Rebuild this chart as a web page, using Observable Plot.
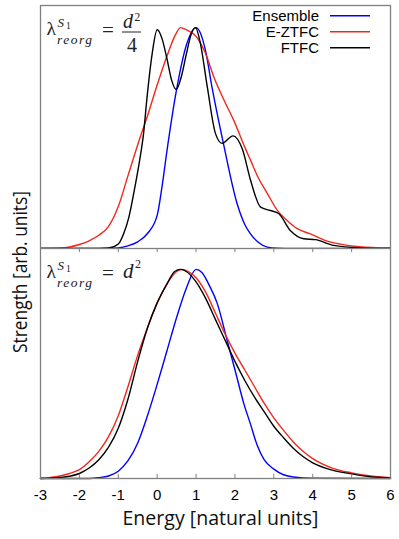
<!DOCTYPE html>
<html>
<head>
<meta charset="utf-8">
<script src="https://cdn.jsdelivr.net/npm/d3@7"></script>
<script src="https://cdn.jsdelivr.net/npm/@observablehq/plot@0.6"></script>
<style>
  html, body { margin: 0; padding: 0; background: white; }
  #chart { position: relative; width: 399px; height: 539px; }
  #chart > svg { position: absolute; left: 0; }
</style>
</head>
<body>
<div id="chart"></div>
<script>
// ---------- data (Energy, Strength) ----------
const xTicks = [-3, -2, -1, 0, 1, 2, 3, 4, 5, 6];
const seriesNames = ["Ensemble", "E-ZTFC", "FTFC"];
const seriesColors = ["#0000ff", "#f0281e", "#000000"];

// top panel: lambda = d^2/4
const topEnsemble = [[-3,0],[-1.5,0],[-1.0,0.003],[-0.75,0.012],[-0.5,0.03],[-0.25,0.068],[0,0.15],[0.125,0.28],[0.25,0.44],[0.5,0.72],[0.75,0.92],[1.0,1.0],[1.1,0.98],[1.25,0.89],[1.41,0.73],[1.71,0.47],[2.06,0.2],[2.25,0.11],[2.4,0.066],[2.6,0.028],[2.83,0.006],[3.1,0.001],[3.5,0],[6,0]];
const topEZTFC = [[-3,0],[-2.5,0.002],[-2.25,0.007],[-2.0,0.018],[-1.75,0.035],[-1.5,0.06],[-1.25,0.1],[-1.0,0.19],[-0.75,0.33],[-0.5,0.47],[-0.25,0.6],[0,0.74],[0.25,0.87],[0.45,0.96],[0.6,1.0],[0.75,0.99],[1.0,0.96],[1.25,0.88],[1.46,0.775],[1.75,0.66],[1.97,0.58],[2.25,0.46],[2.4,0.40],[2.6,0.32],[2.83,0.25],[3.1,0.17],[3.34,0.127],[3.6,0.09],[3.94,0.066],[4.3,0.038],[4.71,0.02],[5.2,0.008],[5.6,0.004],[6,0.002]];
const topFTFC = [[-3,0],[-1.5,0],[-1.25,0.002],[-1.0,0.02],[-0.86,0.068],[-0.73,0.14],[-0.56,0.29],[-0.45,0.40],[-0.35,0.52],[-0.26,0.685],[-0.13,0.88],[0,0.99],[0.125,0.95],[0.25,0.86],[0.375,0.76],[0.49,0.72],[0.625,0.78],[0.75,0.88],[0.875,0.97],[0.985,1.0],[1.11,0.93],[1.29,0.73],[1.5,0.52],[1.67,0.476],[1.95,0.51],[2.19,0.45],[2.4,0.31],[2.66,0.187],[2.91,0.172],[3.13,0.157],[3.43,0.08],[3.77,0.044],[4.07,0.04],[4.54,0.014],[5.23,0.003],[6,0]];

// bottom panel: lambda = d^2
const botEnsemble = [[-3,0],[-1.75,0],[-1.5,0.004],[-1.25,0.012],[-1.0,0.035],[-0.75,0.085],[-0.5,0.17],[-0.25,0.30],[0,0.45],[0.25,0.61],[0.5,0.77],[0.75,0.91],[1.0,1.0],[1.15,0.985],[1.35,0.92],[1.54,0.84],[1.8,0.66],[2.0,0.52],[2.23,0.357],[2.4,0.26],[2.57,0.16],[2.75,0.09],[3.0,0.045],[3.25,0.018],[3.5,0.007],[4.0,0.001],[6,0]];
const botEZTFC = [[-3,0.001],[-2.75,0.005],[-2.5,0.012],[-2.25,0.024],[-2.0,0.042],[-1.75,0.08],[-1.5,0.13],[-1.25,0.2],[-1.0,0.3],[-0.75,0.44],[-0.5,0.59],[-0.25,0.72],[0,0.84],[0.25,0.93],[0.5,0.99],[0.64,1.0],[0.8,0.99],[1.0,0.96],[1.25,0.89],[1.5,0.79],[1.75,0.69],[2.0,0.6],[2.25,0.52],[2.5,0.44],[2.75,0.36],[3.0,0.29],[3.25,0.23],[3.5,0.175],[3.75,0.13],[4.0,0.095],[4.5,0.05],[5.0,0.027],[5.5,0.012],[6,0.004]];
const botFTFC = [[-3,0],[-2.75,0.002],[-2.5,0.005],[-2.25,0.011],[-2.0,0.024],[-1.75,0.05],[-1.5,0.09],[-1.25,0.15],[-1.0,0.24],[-0.75,0.38],[-0.5,0.56],[-0.25,0.72],[0,0.84],[0.25,0.93],[0.45,0.99],[0.6,1.0],[0.75,0.99],[1.0,0.94],[1.25,0.86],[1.5,0.76],[1.75,0.66],[2.0,0.56],[2.25,0.47],[2.5,0.39],[2.75,0.32],[3.0,0.25],[3.25,0.195],[3.5,0.145],[3.75,0.105],[4.0,0.075],[4.5,0.04],[5.0,0.022],[5.5,0.008],[6,0.003]];

const xLabel = "Energy [natural units]";
const yLabel = "Strength [arb. units]";

// ---------- helpers ----------
const frameColor = "#808080";
const innerTicks = xTicks.slice(1, -1);

function curveMarks(series) {
  return series.map((s, i) => Plot.line(s, {
    x: d => d[0], y: d => d[1],
    stroke: seriesColors[i], strokeWidth: 1.4, curve: "monotone-x"
  }));
}

const W = 399;
const ML = 40, MR = 9;

const topPlot = Plot.plot({
  width: W, height: 248,
  marginTop: 5, marginBottom: 0, marginLeft: ML, marginRight: MR,
  x: {domain: [-3, 6], axis: null},
  y: {domain: [0, 1.1], axis: null},
  style: {fontFamily: "Liberation Sans, Arial, sans-serif", fontSize: "15px", background: "transparent"},
  marks: [
    ...curveMarks([topEnsemble, topEZTFC, topFTFC]),
    Plot.frame({stroke: frameColor, strokeWidth: 1.3})
  ]
});

const bottomPlot = Plot.plot({
  width: W, height: 291,
  marginTop: 0, marginBottom: 61, marginLeft: ML, marginRight: MR,
  x: {domain: [-3, 6], ticks: xTicks, tickFormat: d => String(d)},
  y: {domain: [0, 1.1], axis: null},
  style: {fontFamily: "Liberation Sans, Arial, sans-serif", fontSize: "15px", background: "transparent"},
  marks: [
    ...curveMarks([botEnsemble, botEZTFC, botFTFC]),
    Plot.ruleX(innerTicks, {x: d => d, y1: 0, y2: 0.02, stroke: frameColor, strokeWidth: 1}),
    Plot.ruleX(innerTicks, {x: d => d, y1: 1.1, y2: 1.08, stroke: frameColor, strokeWidth: 1}),
    Plot.axisX({ticks: xTicks, tickSize: 0, tickPadding: 11, fontSize: 15, tickFormat: d => String(d)}),
    Plot.text([xLabel], {frameAnchor: "bottom", dy: 46, dx: 5, fontSize: 20, fontFamily: "Open Sans", fill: "#111"}),
    Plot.frame({stroke: frameColor, strokeWidth: 1.3})
  ]
});

const chart = document.getElementById("chart");
topPlot.style.top = "0px";
bottomPlot.style.top = "248px";
chart.appendChild(topPlot);
chart.appendChild(bottomPlot);

// compress x label to the reference width
d3.select(bottomPlot).selectAll("text").filter(function() { return this.textContent === xLabel; })
  .attr("textLength", 196).attr("lengthAdjust", "spacingAndGlyphs");

// ---------- legend ----------
const gLeg = d3.select(topPlot).append("g");
seriesNames.forEach((name, i) => {
  gLeg.append("text").text(name)
    .attr("x", 319).attr("y", 21 + 16 * i)
    .attr("text-anchor", "end")
    .attr("font-family", "Liberation Sans, Arial, sans-serif")
    .attr("font-size", 15).attr("fill", "#000");
  gLeg.append("line")
    .attr("x1", 330).attr("x2", 370)
    .attr("y1", 15.7 + 16 * i).attr("y2", 15.7 + 16 * i)
    .attr("stroke", seriesColors[i]).attr("stroke-width", 1.4);
});

// ---------- lambda annotations ----------
const serif = "Liberation Serif, Times New Roman, serif";
function lambda(svg, b, fraction) {
  const g = d3.select(svg).append("g")
    .attr("font-family", serif).attr("fill", "#222").attr("text-anchor", "start");
  const t = (s, x, y, size, italic, anchor) => {
    const e = g.append("text").text(s).attr("x", x).attr("y", y).attr("font-size", size)
      .attr("text-anchor", anchor || "start");
    if (italic) e.attr("font-style", "italic");
    return e;
  };
  t("λ", 56, b, 19.5, false, "end");
  t("S", 57.5, b - 8.5, 13, true);
  t("1", 66, b - 6.5, 9.5, false);
  t("reorg", 57, b + 8.5, 13.5, true).attr("letter-spacing", 1.5);
  t("=", 102, b + 1.5, 21, false);
  if (fraction) {
    const num = t("d", 123, b - 7, 20, true);
    num.append("tspan").text("2").attr("x", 134.5).attr("y", b - 14)
      .attr("font-size", 11.5).attr("font-style", "normal");
    g.append("line").attr("x1", 122).attr("x2", 141).attr("y1", b - 3).attr("y2", b - 3)
      .attr("stroke", "#222").attr("stroke-width", 1);
    t("4", 132, b + 16.5, 20, false, "middle");
  } else {
    const d = t("d", 123, b, 21, true);
    d.append("tspan").text("2").attr("x", 135).attr("y", b - 10)
      .attr("font-size", 12).attr("font-style", "normal");
  }
}
lambda(topPlot, 35, true);
lambda(bottomPlot, 30, false);

// ---------- y label (spans both panels) ----------
const overlay = d3.select(chart).append("svg")
  .attr("width", W).attr("height", 539)
  .style("top", "0px").style("pointer-events", "none");
overlay.append("text").text(yLabel)
  .attr("transform", "translate(27,272) rotate(-90)")
  .attr("text-anchor", "middle")
  .attr("font-family", "Open Sans").attr("font-size", 20).attr("fill", "#111")
  .attr("textLength", 162).attr("lengthAdjust", "spacingAndGlyphs");
</script>
</body>
</html>
